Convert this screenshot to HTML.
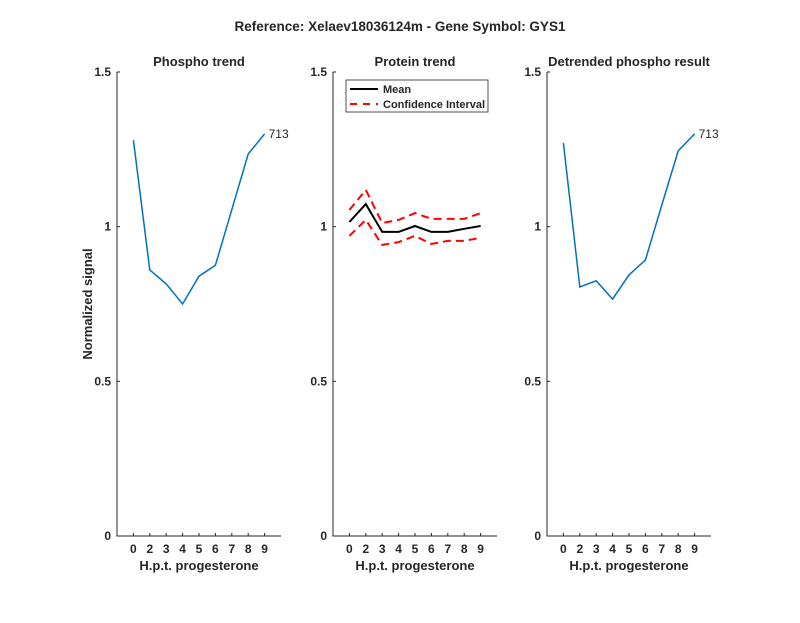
<!DOCTYPE html>
<html><head><meta charset="utf-8"><style>
body{margin:0;background:#fff}
svg text{font-family:"Liberation Sans",Arial,sans-serif;fill:#262626}
</style></head><body>
<svg id="c" width="800" height="618" xmlns="http://www.w3.org/2000/svg">
<text x="400" y="31" text-anchor="middle" font-size="13.5" font-weight="bold">Reference:  Xelaev18036124m - Gene Symbol:  GYS1</text>
<text transform="translate(92,304) rotate(-90)" text-anchor="middle" font-size="13" font-weight="bold">Normalized signal</text>
<g id="g"></g>
</svg>
<script>
const categories=["0","2","3","4","5","6","7","8","9"];
const yTicks=[0,0.5,1,1.5];
const yTickLabels=["0","0.5","1","1.5"];
const phospho=[1.28,0.86,0.815,0.75,0.84,0.875,1.055,1.235,1.30];
const detrended=[1.27,0.805,0.825,0.766,0.844,0.892,1.07,1.245,1.30];
const proteinMean=[1.015,1.073,0.983,0.983,1.002,0.983,0.983,0.993,1.002];
const proteinUpper=[1.054,1.119,1.012,1.022,1.044,1.025,1.025,1.025,1.044];
const proteinLower=[0.97,1.022,0.941,0.95,0.97,0.944,0.954,0.954,0.964];
const peptideLabel="713";
const NS="http://www.w3.org/2000/svg";
const g=document.getElementById('g');
const Y0=536,Y1=72;
function ys(v){return Y0-(v/1.5)*(Y0-Y1);}
function mk(t,a,p){const e=document.createElementNS(NS,t);for(const k in a)e.setAttribute(k,a[k]);(p||g).appendChild(e);return e;}
function panel(x0,title,name){
  const W=164;
  const xs=i=>x0+(i+1)/10*W;
  const grp=mk('g',{});
  
  
  const ax=mk('path',{d:`M${x0} ${Y1}V${Y0}H${x0+W}`,stroke:'#262626',fill:'none','stroke-width':1},grp);
  
  
  yTicks.forEach((v,i)=>{
    mk('line',{x1:x0,x2:x0+3,y1:ys(v),y2:ys(v),stroke:'#262626'},grp);
    const t=mk('text',{x:x0-6,y:ys(v)+4,'text-anchor':'end','font-size':12,'font-weight':'bold'},grp);
    t.textContent=yTickLabels[i];
    
    
  });
  categories.forEach((c,i)=>{
    mk('line',{x1:xs(i),x2:xs(i),y1:Y0,y2:Y0-3,stroke:'#262626'},grp);
    const t=mk('text',{x:xs(i),y:Y0+17,'text-anchor':'middle','font-size':12,'font-weight':'bold'},grp);
    t.textContent=c;
    
    
  });
  const xt=mk('text',{x:x0+W/2,y:Y0+34,'text-anchor':'middle','font-size':13,'font-weight':'bold'},grp);
  xt.textContent='H.p.t. progesterone';
  
  
  const tt=mk('text',{x:x0+W/2,y:66,'text-anchor':'middle','font-size':13,'font-weight':'bold'},grp);
  tt.textContent=title;
  
  
  return {xs,grp};
}
function line(p,data,style,name){
  const d=data.map((v,i)=>(i?'L':'M')+p.xs(i).toFixed(1)+' '+ys(v).toFixed(1)).join('');
  const e=mk('path',Object.assign({d,fill:'none'},style),p.grp);
  
  
}
const p1=panel(117,'Phospho trend','phospho-panel');
line(p1,phospho,{stroke:'#0072BD','stroke-width':1.5},'phospho-line');
let l=mk('text',{x:p1.xs(8)+4,y:ys(phospho[8])+4,'font-size':12},p1.grp);
l.textContent=peptideLabel;


const p2=panel(333,'Protein trend','protein-panel');
line(p2,proteinUpper,{stroke:'#ff0000','stroke-width':2,'stroke-dasharray':'8 5'},'ci-upper-line');
line(p2,proteinLower,{stroke:'#ff0000','stroke-width':2,'stroke-dasharray':'8 5'},'ci-lower-line');
line(p2,proteinMean,{stroke:'#000','stroke-width':2},'mean-line');
const lg=mk('g',{},p2.grp);


mk('rect',{x:346,y:80,width:142,height:32,fill:'#fff',stroke:'#262626','stroke-width':0.8},lg);
mk('line',{x1:350,x2:378,y1:89,y2:89,stroke:'#000','stroke-width':2},lg);
mk('line',{x1:350,x2:378,y1:104,y2:104,stroke:'#f00','stroke-width':2,'stroke-dasharray':'7 6'},lg);
let t1=mk('text',{x:383,y:93,'font-size':11,'font-weight':'bold'},lg);t1.textContent='Mean';


let t2=mk('text',{x:383,y:108,'font-size':11,'font-weight':'bold'},lg);t2.textContent='Confidence Interval';


const p3=panel(547,'Detrended phospho result','detrended-panel');
line(p3,detrended,{stroke:'#0072BD','stroke-width':1.5},'detrended-line');
l=mk('text',{x:p3.xs(8)+4,y:ys(detrended[8])+4,'font-size':12},p3.grp);
l.textContent=peptideLabel;


</script>
</body></html>
